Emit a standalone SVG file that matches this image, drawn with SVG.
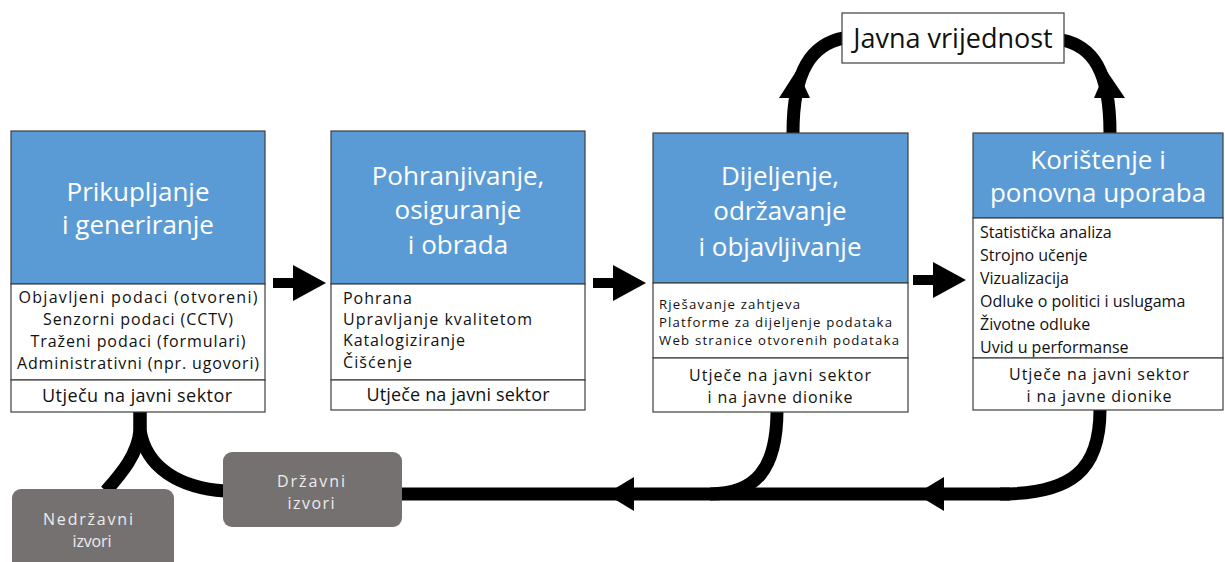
<svg xmlns="http://www.w3.org/2000/svg" width="1225" height="562" viewBox="0 0 1225 562">
<defs>
<style>
.box{fill:#fff;stroke:#3f3f3f;stroke-width:1.2}
.blue{fill:#5b9bd5;stroke:#3f3f3f;stroke-width:1.2}
.grey{fill:#767171}
.t{font-family:"Open Sans","Noto Sans",sans-serif;fill:#fff;font-size:26px;text-anchor:middle}
.i{font-family:"Open Sans","Noto Sans",sans-serif;fill:#111;font-size:16px}
.f{font-size:18px}
.c{text-anchor:middle}
.s{font-family:"Open Sans","Noto Sans",sans-serif;fill:#ececec;font-size:16px;text-anchor:middle}
.ln{fill:none;stroke:#000;stroke-width:13}
</style>
</defs>
<g id="connectors">
<polygon points="273,278 293,278 293,265 326,283 293,301 293,288 273,288"/>
<polygon points="593,278 613,278 613,265 646,283 613,301 613,288 593,288"/>
<polygon points="913,275 933,275 933,262 966,280 933,298 933,285 913,285"/>
<path class="ln" d="M793,133 C793,70 812,44 844,38"/>
<polygon points="779,98 810,98 797,70"/>
<path class="ln" d="M1110,133 C1110,70 1092,46 1062,40"/>
<polygon points="1094,98 1125,98 1106,70"/>
<path class="ln" d="M140,410 L140,430 C146,468 180,488 225,491"/>
<path class="ln" d="M140,410 L140,430 C138,455 120,475 106,491"/>
<path class="ln" d="M400,494 L1010,494"/>
<path class="ln" d="M777,410 C777,470 755,494 710,494"/>
<path class="ln" d="M1100,410 C1100,470 1072,494 1000,494"/>
<polygon points="606,494 634,477 634,511"/>
<polygon points="916,494 944,477 944,511"/>
</g>
<g id="node-prikupljanje">
<rect class="blue" x="11" y="131" width="254" height="153"/>
<rect class="box" x="11" y="284" width="254" height="96"/>
<rect class="box" x="11" y="380" width="254" height="32"/>
<text class="t" x="138" y="201">Prikupljanje</text>
<text class="t" x="138" y="234">i generiranje</text>
<text class="i c" x="138" y="303" textLength="239" lengthAdjust="spacing">Objavljeni podaci (otvoreni)</text>
<text class="i c" x="138" y="325" textLength="190" lengthAdjust="spacing">Senzorni podaci (CCTV)</text>
<text class="i c" x="138" y="347" textLength="215" lengthAdjust="spacing">Traženi podaci (formulari)</text>
<text class="i c" x="138" y="369" textLength="242" lengthAdjust="spacing">Administrativni (npr. ugovori)</text>
<text class="i c f" x="137" y="402" textLength="190" lengthAdjust="spacing">Utječu na javni sektor</text>
</g>
<g id="node-pohranjivanje">
<rect class="blue" x="331" y="131" width="254" height="153"/>
<rect class="box" x="331" y="284" width="254" height="96"/>
<rect class="box" x="331" y="380" width="254" height="30"/>
<text class="t" x="458" y="185">Pohranjivanje,</text>
<text class="t" x="458" y="219">osiguranje</text>
<text class="t" x="458" y="254">i obrada</text>
<text class="i" x="343" y="304" textLength="69" lengthAdjust="spacing">Pohrana</text>
<text class="i" x="343" y="325" textLength="189" lengthAdjust="spacing">Upravljanje kvalitetom</text>
<text class="i" x="343" y="346" textLength="122" lengthAdjust="spacing">Katalogiziranje</text>
<text class="i" x="343" y="368" textLength="69" lengthAdjust="spacing">Čišćenje</text>
<text class="i c f" x="458" y="401" textLength="183" lengthAdjust="spacing">Utječe na javni sektor</text>
</g>
<g id="node-dijeljenje">
<rect class="blue" x="653" y="133" width="255" height="150"/>
<rect class="box" x="653" y="283" width="255" height="75"/>
<rect class="box" x="653" y="358" width="255" height="54"/>
<text class="t" x="780" y="185">Dijeljenje,</text>
<text class="t" x="780" y="220">održavanje</text>
<text class="t" x="780" y="256">i objavljivanje</text>
<text class="i" x="659" y="309" style="font-size:13.2px" textLength="141" lengthAdjust="spacing">Rješavanje zahtjeva</text>
<text class="i" x="659" y="327" style="font-size:13.2px" textLength="233" lengthAdjust="spacing">Platforme za dijeljenje podataka</text>
<text class="i" x="659" y="345" style="font-size:13.2px" textLength="240" lengthAdjust="spacing">Web stranice otvorenih podataka</text>
<text class="i c" x="780" y="381" textLength="182" lengthAdjust="spacing">Utječe na javni sektor</text>
<text class="i c" x="780" y="403" textLength="145" lengthAdjust="spacing">i na javne dionike</text>
</g>
<g id="node-koristenje">
<rect class="blue" x="973" y="133" width="250" height="85"/>
<rect class="box" x="973" y="218" width="250" height="140"/>
<rect class="box" x="973" y="358" width="250" height="52"/>
<text class="t" x="1098" y="169">Korištenje i</text>
<text class="t" x="1098" y="202">ponovna uporaba</text>
<text class="i" x="980" y="238">Statistička analiza</text>
<text class="i" x="980" y="261">Strojno učenje</text>
<text class="i" x="980" y="284">Vizualizacija</text>
<text class="i" x="980" y="307">Odluke o politici i uslugama</text>
<text class="i" x="980" y="330">Životne odluke</text>
<text class="i" x="980" y="353">Uvid u performanse</text>
<text class="i c" x="1099" y="380" textLength="180" lengthAdjust="spacing">Utječe na javni sektor</text>
<text class="i c" x="1099" y="402" textLength="145" lengthAdjust="spacing">i na javne dionike</text>
</g>
<g id="node-javna-vrijednost">
<rect class="box" x="842" y="13" width="222" height="50"/>
<text class="i c" x="953" y="48" style="font-size:27px">Javna vrijednost</text>
</g>
<g id="node-drzavni">
<rect class="grey" x="223" y="452" width="179" height="75" rx="9"/>
<text class="s" x="311" y="487" textLength="68" lengthAdjust="spacing">Državni</text>
<text class="s" x="311" y="509" textLength="47" lengthAdjust="spacing">izvori</text>
</g>
<g id="node-nedrzavni">
<rect class="grey" x="12" y="489" width="162" height="84" rx="9"/>
<text class="s" x="88" y="525" textLength="90" lengthAdjust="spacing">Nedržavni</text>
<text class="s" x="92" y="547" textLength="39" lengthAdjust="spacing">izvori</text>
</g>
</svg>
